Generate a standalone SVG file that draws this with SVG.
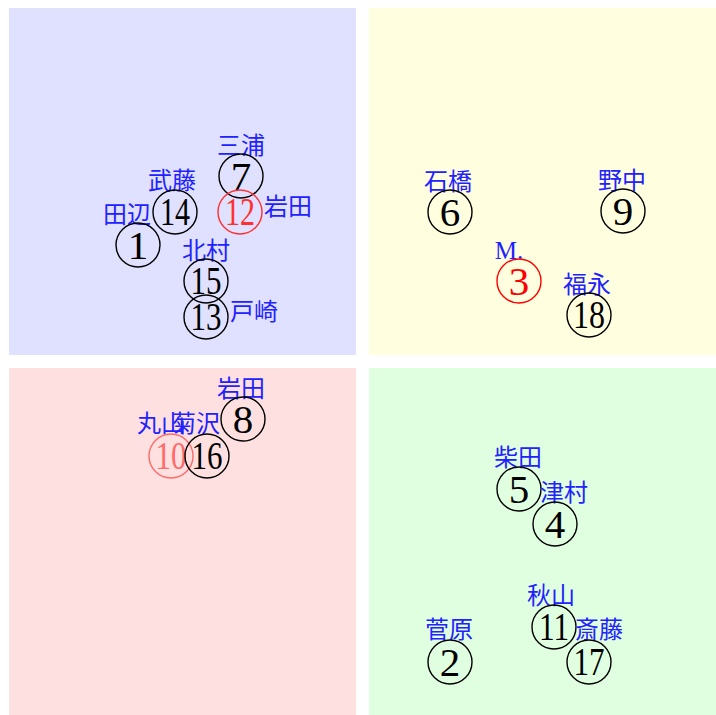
<svg xmlns="http://www.w3.org/2000/svg" width="716" height="715" viewBox="0 0 716 715">
<style>
.q{stroke:none}
.c{fill:none;stroke:#000;stroke-width:1.4}
.n{font-family:"Liberation Serif","DejaVu Serif",serif;font-size:41px;text-anchor:middle;fill:#000}
.n2{font-family:"Liberation Serif","DejaVu Serif",serif;font-size:39px;text-anchor:middle;fill:#000}
.l{font-family:"Noto Sans CJK JP","Noto Sans CJK SC",sans-serif;font-size:24px;text-anchor:middle;fill:#2222ff}
.r1 .c{stroke:#ff3030}.r1 text.n2,.r1 text.n{fill:#ff3030}
.r2 .c{stroke:#ff0000}.r2 text.n{fill:#ff0000}
.r3 .c{stroke:#ff6a6a}.r3 text.n2{fill:#ff6a6a}
</style>
<rect class="q" x="9" y="8" width="347" height="347" fill="#e0e0ff"/>
<rect class="q" x="369" y="8" width="347" height="347" fill="#ffffe0"/>
<rect class="q" x="9" y="368" width="347" height="347" fill="#ffe0e0"/>
<rect class="q" x="369" y="368" width="347" height="347" fill="#e0ffe0"/>

<g id="node1"><text class="l" x="127" y="223">田辺</text><circle class="c" cx="138" cy="245" r="22"/><text class="n" x="138" y="259">1</text></g>
<g id="node14"><text class="l" x="172" y="189">武藤</text><circle class="c" cx="175" cy="212" r="22"/><text class="n2" x="175" y="225" textLength="30" lengthAdjust="spacingAndGlyphs">14</text></g>
<g id="node7"><text class="l" x="241" y="154">三浦</text><circle class="c" cx="241" cy="176" r="22"/><text class="n" x="241" y="190">7</text></g>
<g id="node12" class="r1"><text class="l" x="288" y="215">岩田</text><circle class="c" cx="240" cy="212" r="22"/><text class="n2" x="240" y="225" textLength="30" lengthAdjust="spacingAndGlyphs">12</text></g>
<g id="node15"><text class="l" x="206" y="259">北村</text><circle class="c" cx="206" cy="281" r="22"/><text class="n2" x="206" y="294" textLength="31" lengthAdjust="spacingAndGlyphs">15</text></g>
<g id="node13"><text class="l" x="254" y="320">戸崎</text><circle class="c" cx="206" cy="317" r="22"/><text class="n2" x="206" y="330" textLength="31" lengthAdjust="spacingAndGlyphs">13</text></g>

<g id="node6"><text class="l" x="448" y="190">石橋</text><circle class="c" cx="450" cy="212" r="22"/><text class="n" x="450" y="226">6</text></g>
<g id="node9"><text class="l" x="622" y="189">野中</text><circle class="c" cx="623" cy="211" r="22"/><text class="n" x="623" y="225">9</text></g>
<g id="node3" class="r2"><text x="509" y="259" font-family="Liberation Serif,serif" font-size="25" text-anchor="middle" fill="#2222ff">M.</text><circle class="c" cx="519" cy="281" r="22"/><text class="n" x="519" y="295">3</text></g>
<g id="node18"><text class="l" x="587" y="293">福永</text><circle class="c" cx="589" cy="315" r="22"/><text class="n2" x="589" y="328" textLength="32" lengthAdjust="spacingAndGlyphs">18</text></g>

<g id="node8"><text class="l" x="241" y="397">岩田</text><circle class="c" cx="243" cy="419" r="22"/><text class="n" x="243" y="433">8</text></g>
<g id="node10" class="r3"><text class="l" x="161" y="432">丸山</text><circle class="c" cx="171" cy="456" r="22"/><text class="n2" x="171" y="469" textLength="31" lengthAdjust="spacingAndGlyphs">10</text></g>
<g id="node16"><text class="l" x="196" y="432">菊沢</text><circle class="c" cx="207" cy="456" r="22"/><text class="n2" x="207" y="469" textLength="31" lengthAdjust="spacingAndGlyphs">16</text></g>

<g id="node5"><text class="l" x="518" y="466">柴田</text><circle class="c" cx="519" cy="489" r="22"/><text class="n" x="519" y="503">5</text></g>
<g id="node4"><text class="l" x="564" y="501">津村</text><circle class="c" cx="555" cy="524" r="22"/><text class="n" x="555" y="538">4</text></g>
<g id="node11"><text class="l" x="551" y="604">秋山</text><circle class="c" cx="554" cy="627" r="22"/><text class="n2" x="554" y="640" textLength="30" lengthAdjust="spacingAndGlyphs">11</text></g>
<g id="node2"><text class="l" x="449" y="638">菅原</text><circle class="c" cx="450" cy="662" r="22"/><text class="n" x="450" y="676">2</text></g>
<g id="node17"><text class="l" x="599" y="638">斎藤</text><circle class="c" cx="589" cy="662" r="22"/><text class="n2" x="589" y="675" textLength="31" lengthAdjust="spacingAndGlyphs">17</text></g>
</svg>
